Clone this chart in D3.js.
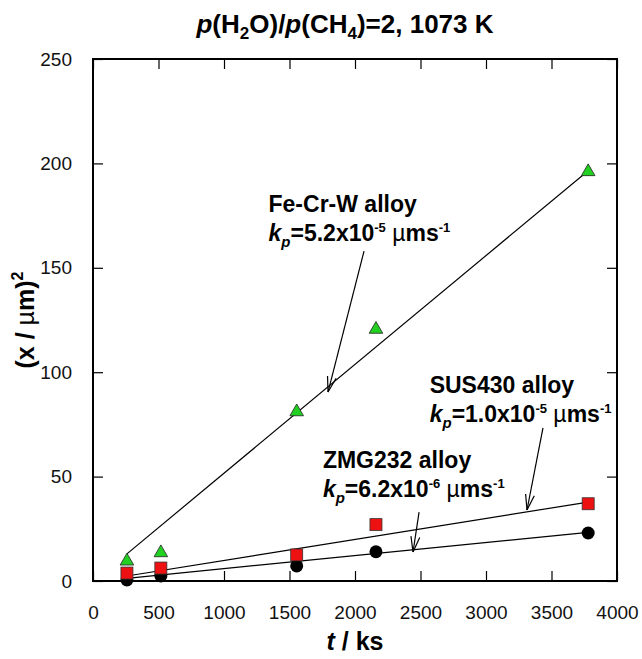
<!DOCTYPE html>
<html>
<head>
<meta charset="utf-8">
<script src="https://cdn.jsdelivr.net/npm/d3@7"></script>
<style>
    body { margin: 0; background: #fff; }
    svg text { font-family: "Liberation Sans", Arial, sans-serif; }
</style>
</head>
<body>
<div id="chart"></div>
<script>
// oxidation time (ks) of each measurement
let times = [259, 518, 1555, 2160, 3780];

// scale thickness squared, (x / um)^2
let feCrW = [10, 14, 81.5, 121, 196.5];
let sus430 = [3.8, 6.2, 12.5, 27, 37];
let zmg232 = [0.5, 2.4, 7.2, 14, 23];

// parabolic fit lines, end points [t, value]
let feCrWFit = [[259, 13], [3780, 196.5]];
let sus430Fit = [[259, 2.4], [3780, 37.8]];
let zmg232Fit = [[259, 1.3], [3780, 23.3]];

let xTicks = [0, 500, 1000, 1500, 2000, 2500, 3000, 3500, 4000];
let yTicks = [0, 50, 100, 150, 200, 250];

// annotation arrows in data units: tail -> tip
let labels = [
    {name: "Fe-Cr-W alloy", kp: "5.2", exp: "-5", textAt: [1340, 176.7], tail: [2069, 158], tip: [1794, 90.5]},
    {name: "SUS430 alloy", kp: "1.0", exp: "-5", textAt: [2570, 90], tail: [3435, 73.3], tip: [3313, 34]},
    {name: "ZMG232 alloy", kp: "6.2", exp: "-6", textAt: [1755, 54], tail: [2489, 33], tip: [2443, 13.9]}
];

let margin = {top: 59, right: 25, bottom: 78, left: 93};
let width = 642 - margin.left - margin.right;
let height = 659 - margin.top - margin.bottom;

let svg = d3.select("#chart").append("svg")
    .attr("width", 642)
    .attr("height", 659);

let g = svg.append("g")
    .attr("transform", "translate(" + margin.left + "," + margin.top + ")");

let x = d3.scaleLinear().domain([0, 4000]).range([0, width]);
let y = d3.scaleLinear().domain([0, 250]).range([height, 0]);

// axes, ticks pointing inwards on all four sides
let tickLen = 10;
g.append("g")
    .attr("class", "axis")
    .attr("transform", "translate(0," + height + ")")
    .call(d3.axisBottom(x).tickValues(xTicks).tickSizeInner(-tickLen).tickSizeOuter(0)
        .tickPadding(tickLen + 15).tickFormat(d3.format("d")));
g.append("g")
    .attr("class", "axis")
    .call(d3.axisTop(x).tickValues(xTicks).tickSizeInner(-tickLen).tickSizeOuter(0).tickFormat(""));
g.append("g")
    .attr("class", "axis")
    .call(d3.axisLeft(y).tickValues(yTicks).tickSizeInner(-tickLen).tickSizeOuter(0)
        .tickPadding(tickLen + 11).tickFormat(d3.format("d")));
g.append("g")
    .attr("class", "axis")
    .attr("transform", "translate(" + width + ",0)")
    .call(d3.axisRight(y).tickValues(yTicks).tickSizeInner(-tickLen).tickSizeOuter(0).tickFormat(""));

g.selectAll(".axis .domain").remove();
g.selectAll(".axis line").attr("stroke", "#000").attr("stroke-width", 1.2);
g.selectAll(".axis text")
    .attr("font-size", 19)
    .attr("fill", "#111")
    .style("font-family", "'Liberation Sans', Arial, sans-serif");

// frame
g.append("rect")
    .attr("width", width)
    .attr("height", height)
    .attr("fill", "none")
    .attr("stroke", "#000")
    .attr("stroke-width", 2);

// fit lines
let line = d3.line().x(d => x(d[0])).y(d => y(d[1]));
[feCrWFit, sus430Fit, zmg232Fit].forEach(function (fit) {
    g.append("path")
        .datum(fit)
        .attr("d", line)
        .attr("fill", "none")
        .attr("stroke", "#000")
        .attr("stroke-width", 1.2);
});

// markers: circles, then squares, then triangles on top
g.selectAll(".zmg").data(zmg232).enter().append("circle")
    .attr("class", "zmg")
    .attr("cx", (d, i) => x(times[i]))
    .attr("cy", d => y(d))
    .attr("r", 6.5)
    .attr("fill", "#000");

g.selectAll(".sus").data(sus430).enter().append("rect")
    .attr("class", "sus")
    .attr("x", (d, i) => x(times[i]) - 6)
    .attr("y", d => y(d) - 6)
    .attr("width", 12)
    .attr("height", 12)
    .attr("fill", "#ee1111")
    .attr("stroke", "#333")
    .attr("stroke-width", 0.8);

let tri = d3.symbol().type(d3.symbolTriangle).size(80);
g.selectAll(".fe").data(feCrW).enter().append("path")
    .attr("class", "fe")
    .attr("d", tri)
    .attr("transform", (d, i) => "translate(" + x(times[i]) + "," + (y(d) + 1) + ")")
    .attr("fill", "#22d022")
    .attr("stroke", "#222")
    .attr("stroke-width", 0.8);

// annotations
labels.forEach(function (lb) {
    let tx = x(lb.textAt[0]), ty = y(lb.textAt[1]);
    g.append("text")
        .attr("x", tx).attr("y", ty)
        .attr("font-size", 23).attr("font-weight", "bold")
        .text(lb.name);
    let t2 = g.append("text")
        .attr("x", tx).attr("y", ty + 29)
        .attr("font-size", 23).attr("font-weight", "bold");
    t2.append("tspan").attr("font-style", "italic").text("k");
    t2.append("tspan").attr("font-style", "italic").attr("font-size", 15).attr("dy", 6).text("p");
    t2.append("tspan").attr("dy", -6).text("=" + lb.kp + "x10");
    t2.append("tspan").attr("font-size", 13).attr("dy", -9).text(lb.exp);
    t2.append("tspan").attr("dy", 9).attr("font-weight", "normal").text("\u00a0\u00b5");
    t2.append("tspan").text("ms");
    t2.append("tspan").attr("font-size", 13).attr("dy", -9).text("-1");

    // arrow shaft and open head
    let x0 = x(lb.tail[0]), y0 = y(lb.tail[1]);
    let x1 = x(lb.tip[0]), y1 = y(lb.tip[1]);
    g.append("line")
        .attr("x1", x0).attr("y1", y0).attr("x2", x1).attr("y2", y1)
        .attr("stroke", "#000").attr("stroke-width", 1.2);
    let ang = Math.atan2(y0 - y1, x0 - x1);
    let headLen = 16, spread = 0.28;
    [ang - spread, ang + spread].forEach(function (a) {
        g.append("line")
            .attr("x1", x1).attr("y1", y1)
            .attr("x2", x1 + headLen * Math.cos(a))
            .attr("y2", y1 + headLen * Math.sin(a))
            .attr("stroke", "#000").attr("stroke-width", 1.2);
    });
});

// title
let title = svg.append("text")
    .attr("x", 345).attr("y", 33)
    .attr("text-anchor", "middle")
    .attr("font-size", 26).attr("font-weight", "bold");
title.append("tspan").attr("font-style", "italic").text("p");
title.append("tspan").text("(H");
title.append("tspan").attr("font-size", 17).attr("dy", 6).text("2");
title.append("tspan").attr("dy", -6).text("O)/");
title.append("tspan").attr("font-style", "italic").text("p");
title.append("tspan").text("(CH");
title.append("tspan").attr("font-size", 17).attr("dy", 6).text("4");
title.append("tspan").attr("dy", -6).text(")=2, 1073 K");

// x axis label
let xl = svg.append("text")
    .attr("x", margin.left + width / 2).attr("y", 650)
    .attr("text-anchor", "middle")
    .attr("font-size", 25).attr("font-weight", "bold");
xl.append("tspan").attr("font-style", "italic").text("t");
xl.append("tspan").text(" / ks");

// y axis label
let yl = svg.append("text")
    .attr("transform", "translate(34," + (margin.top + height / 2) + ") rotate(-90)")
    .attr("text-anchor", "middle")
    .attr("font-size", 25).attr("font-weight", "bold");
yl.append("tspan").text("(x / ");
yl.append("tspan").attr("font-weight", "normal").text("\u00b5");
yl.append("tspan").text("m)");
yl.append("tspan").attr("font-size", 16).attr("dy", -11).text("2");
</script>
</body>
</html>
